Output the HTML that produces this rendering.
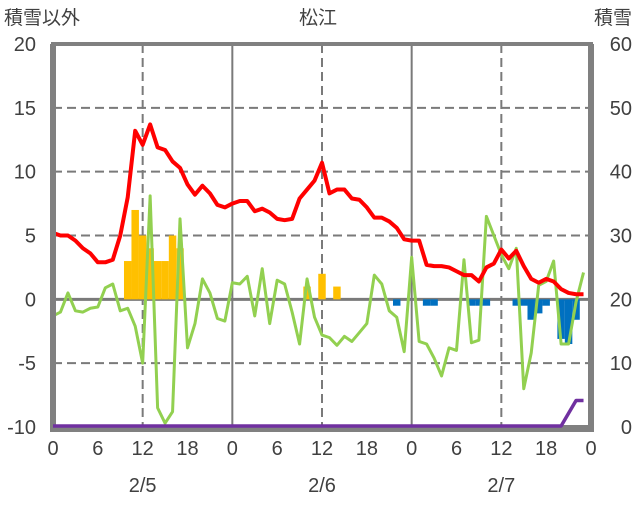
<!DOCTYPE html>
<html><head><meta charset="utf-8"><style>
body{margin:0;background:#fff;}
svg text{font-family:"Liberation Sans","Noto Sans CJK JP",sans-serif;fill:#404040;}
</style></head><body>
<svg id="chart" width="636" height="501" xmlns="http://www.w3.org/2000/svg">
<text x="4" y="24" font-size="19">積雪以外</text>
<text x="318" y="24" font-size="19" text-anchor="middle">松江</text>
<text x="632" y="24" font-size="19" text-anchor="end">積雪</text>
<g id="grid"></g><g id="bars"></g><g id="lines"></g><g id="axes"></g><g id="top"></g>
</svg>
<script>
const redVals=[5.2,5.0,5.0,4.6,4.0,3.6,2.9,2.9,3.1,5.0,8.0,13.2,12.1,13.7,11.9,11.7,10.8,10.3,9.0,8.2,8.9,8.3,7.4,7.2,
7.5,7.7,7.7,6.9,7.1,6.8,6.3,6.2,6.3,7.9,8.6,9.3,10.7,8.3,8.6,8.6,7.9,7.8,7.2,6.4,6.4,6.1,5.6,4.7,
4.6,4.6,2.7,2.6,2.6,2.5,2.2,1.9,1.9,1.4,2.5,2.8,3.9,3.2,3.8,2.6,1.6,1.3,1.6,1.4,0.8,0.5,0.4,0.4];
const greenVals=[-1.3,-1.0,0.5,-0.9,-1.0,-0.7,-0.6,0.9,1.2,-0.9,-0.7,-2.1,-5.0,8.1,-8.5,-9.7,-8.8,6.3,-3.8,-1.9,1.6,0.5,-1.5,-1.7,
1.3,1.2,1.8,-1.3,2.4,-1.9,1.5,1.2,-1.0,-3.5,1.6,-1.4,-2.8,-3.0,-3.6,-2.9,-3.3,-2.6,-1.9,1.9,1.2,-0.9,-1.4,-4.1,
3.3,-3.3,-3.5,-4.6,-6.0,-3.8,-4.0,3.1,-3.4,-3.2,6.5,5.0,3.5,2.4,4.0,-7.0,-4.2,1.1,1.4,3.0,-3.5,-3.5,-0.2,2.1];
const snowDepth=[0,0,0,0,0,0,0,0,0,0,0,0,0,0,0,0,0,0,0,0,0,0,0,0,0,0,0,0,0,0,0,0,0,0,0,0,0,0,0,0,0,0,0,0,0,0,0,0,
0,0,0,0,0,0,0,0,0,0,0,0,0,0,0,0,0,0,0,0,0,2,4,4];
const barHours=[10,11,12,13,14,15,16,17,34,36,38,46,50,51,56,57,58,62,63,64,65,66,68,69,70];
const barVals=[3,7,5,4,3,3,5,4,1,2,1,-0.5,-0.5,-0.5,-0.5,-0.5,-0.5,-0.5,-0.5,-1.6,-1.1,-0.5,-3.1,-3.5,-1.6];
const leftTicks=[20,15,10,5,0,-5,-10];
const rightTicks=[60,50,40,30,20,10,0];
const xTickLabels=["0","6","12","18","0","6","12","18","0","6","12","18","0"];
const dateLabels=["2/5","2/6","2/7"];
const X0=53,X1=591,Y0=44,Y1=427;
const x=h=>X0+(X1-X0)*h/72;
const yL=v=>Y1-(v+10)/30*(Y1-Y0);
const yR=v=>Y1-1-v/60*(Y1-Y0);
const NS="http://www.w3.org/2000/svg";
function mk(tag,parent,attrs){const e=document.createElementNS(NS,tag);for(const k in attrs)e.setAttribute(k,attrs[k]);document.getElementById(parent).appendChild(e);return e;}
leftTicks.forEach(v=>{if(v===20||v===-10)return;
 const l=mk('line','grid',{x1:X0,x2:X1,y1:yL(v),y2:yL(v),stroke:'#7a7a7a','stroke-width':v===0?3:2,'stroke-dasharray':v===0?'':'9,5'});
 
 });
for(let h=12;h<72;h+=12){
 const l=mk('line','grid',{x1:x(h),x2:x(h),y1:Y0,y2:Y1,stroke:'#7a7a7a','stroke-width':2,'stroke-dasharray':h%24?'9,5':''});
 
 }
barHours.forEach((h,i)=>{const v=barVals[i];const w=(X1-X0)/72;
 const r=mk('rect','bars',{x:x(h)-w/2,width:w,y:Math.min(yL(v),yL(0)),height:Math.abs(yL(v)-yL(0)),fill:v>0?'#FFC000':'#0070C0'});
 
 });
function line(g,vals,fy,color,w,name){const p=mk('polyline',g,{points:vals.map((v,i)=>x(i)+','+fy(v)).join(' '),fill:'none',stroke:color,'stroke-width':w,'stroke-linejoin':'round'});
 
 }
line('lines',greenVals,yL,'#92D050',3,'green-series-line');
line('lines',redVals,yL,'#FF0000',4,'red-series-line');
const f=mk('rect','axes',{x:X0,y:Y0,width:X1-X0,height:Y1-Y0,fill:'none',stroke:'#808080','stroke-width':4});


const fl=mk('path','axes',{d:`M${X0} ${Y0} V${Y1+2} H${X1} V${Y0}`,fill:'none',stroke:'#808080','stroke-width':6});


line('top',snowDepth,yR,'#7030A0',3.5,'snow-depth-line');
leftTicks.forEach(v=>{const t=mk('text','axes',{x:36,y:yL(v)+7,'font-size':20,'text-anchor':'end'});t.textContent=v;
 
 });
rightTicks.forEach(v=>{const t=mk('text','axes',{x:632,y:yR(v)+8,'font-size':20,'text-anchor':'end'});t.textContent=v;
 
 });
xTickLabels.forEach((s,i)=>{const t=mk('text','axes',{x:x(i*6),y:455,'font-size':20,'text-anchor':'middle'});t.textContent=s;
 
 });
dateLabels.forEach((s,i)=>{const t=mk('text','axes',{x:x(12+24*i),y:492,'font-size':20,'text-anchor':'middle'});t.textContent=s;
 
 });
</script>
</body></html>
